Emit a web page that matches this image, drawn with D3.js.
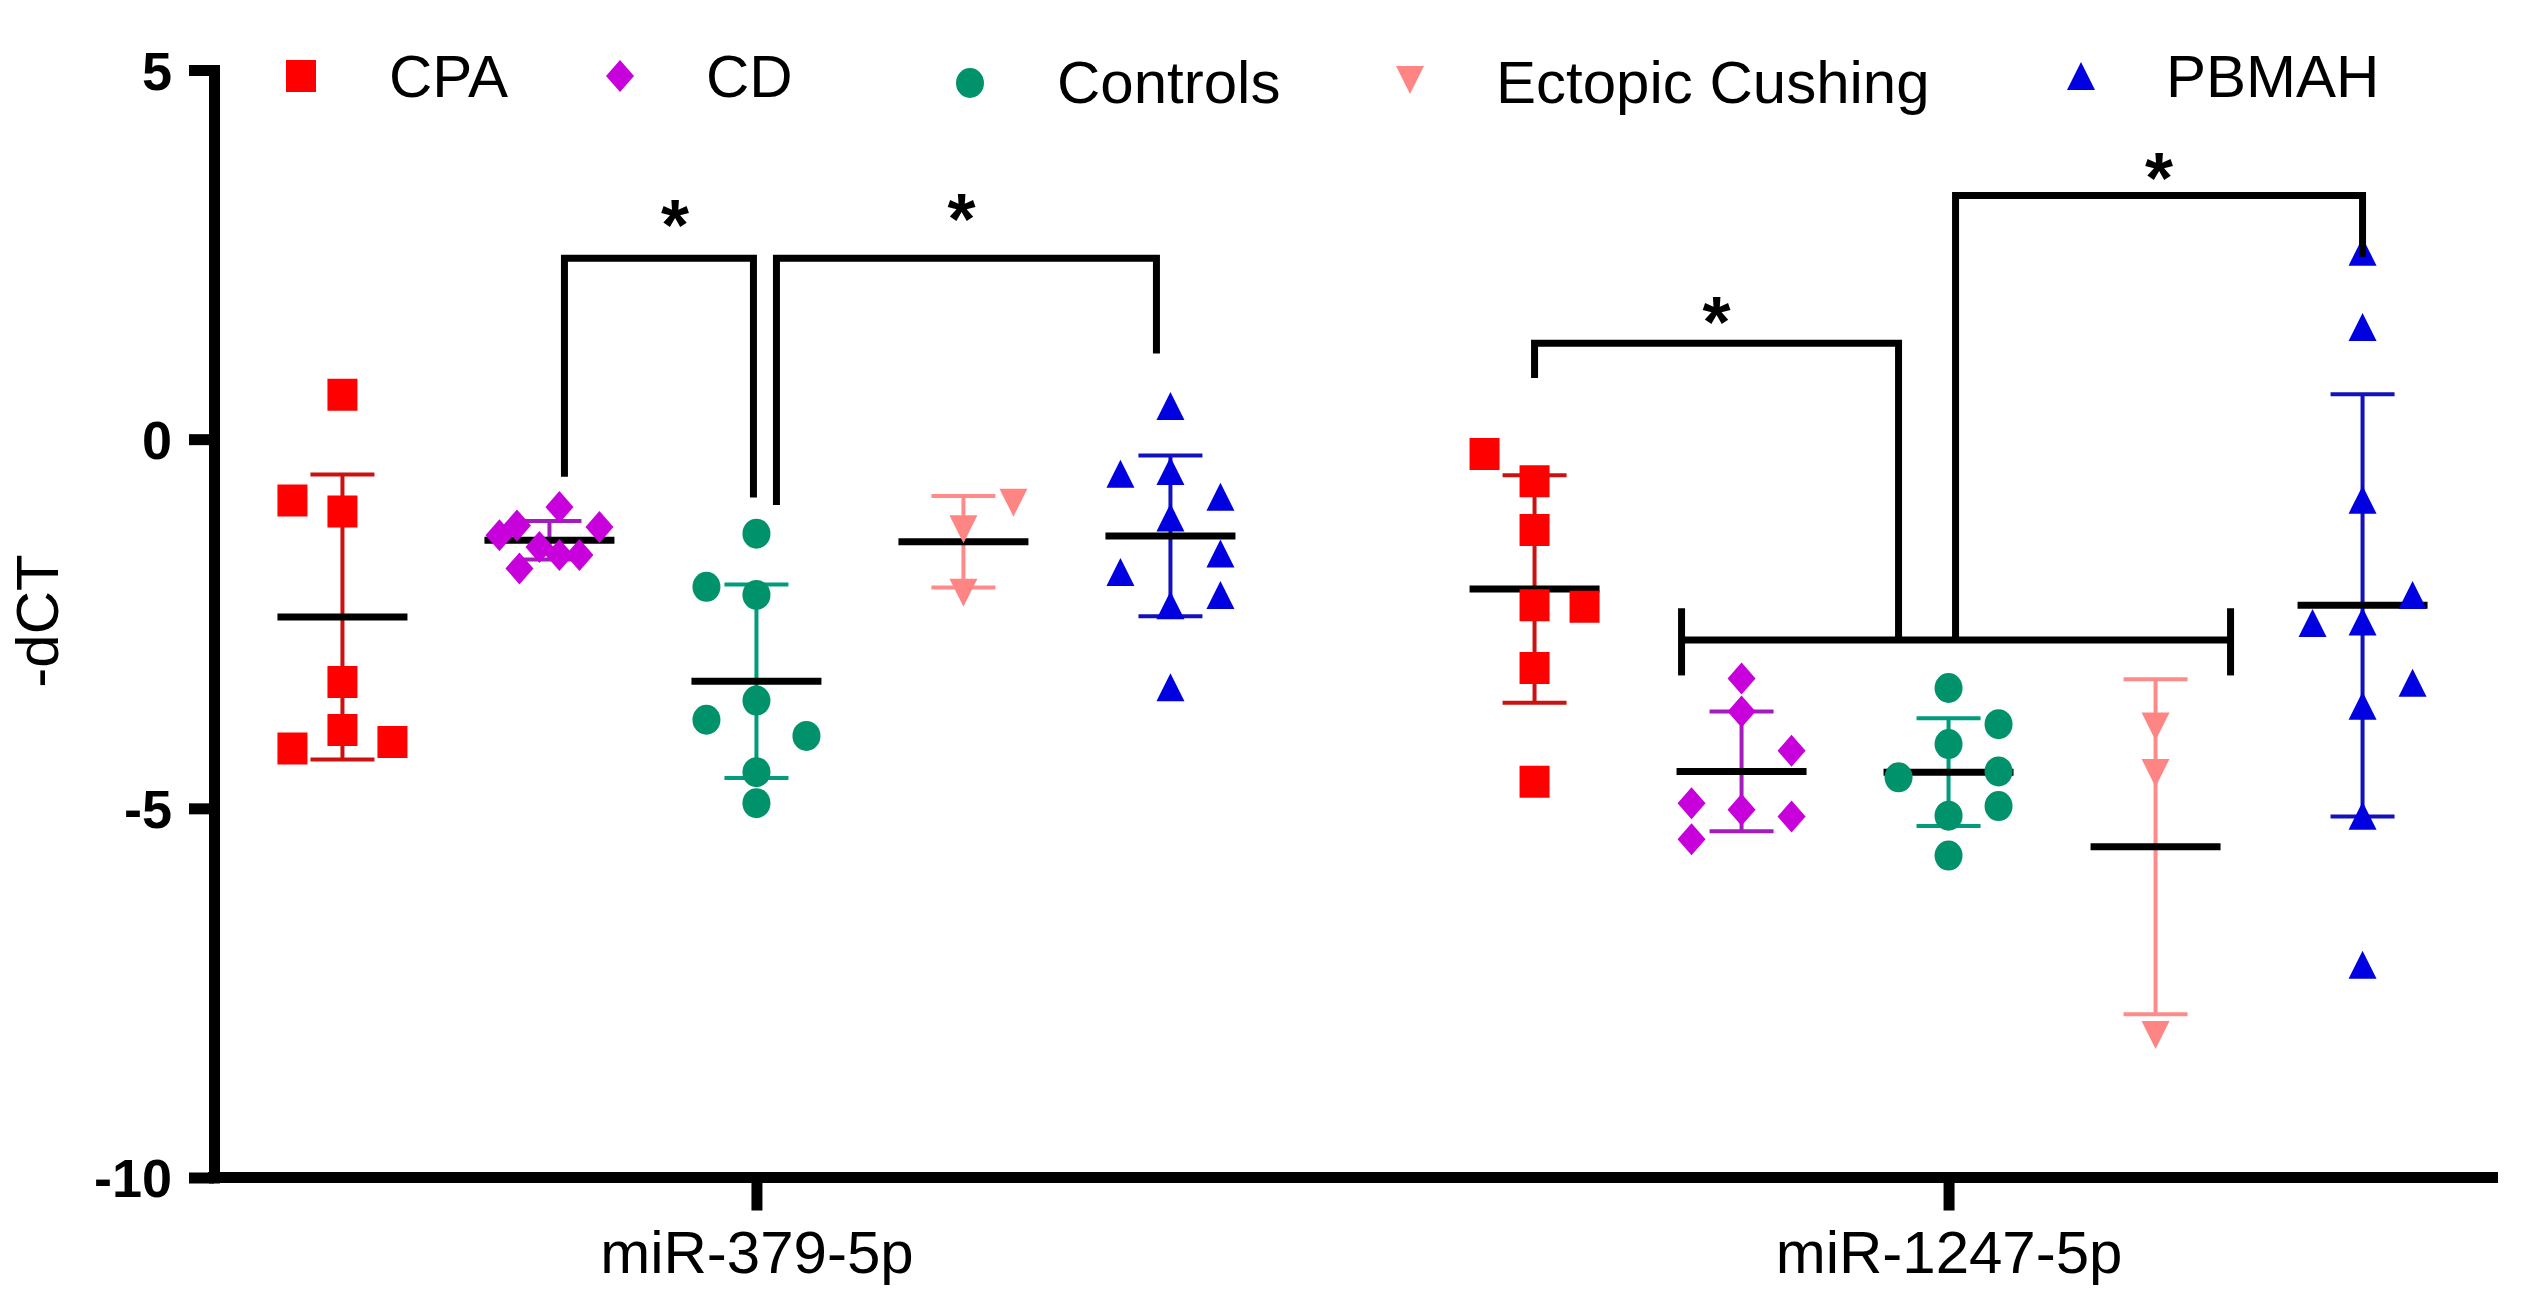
<!DOCTYPE html>
<html><head><meta charset="utf-8">
<script src="https://cdn.jsdelivr.net/npm/d3@7"></script>
<style>body{margin:0;background:#fff}svg{display:block}</style>
</head><body>
<svg id="chart" width="2535" height="1306"></svg>
<script>
// ---------------- data ----------------
const mirnas = ["miR-379-5p", "miR-1247-5p"];
const groups = ["CPA", "CD", "Controls", "Ectopic Cushing", "PBMAH"];
const yTicks = [5, 0, -5, -10];
const yTitle = "-dCT";

// miR-379-5p individual -dCT values (and horizontal scatter slot of each point)
const cpa379 = [0.60, -0.83, -0.98, -3.29, -3.94, -4.19, -4.10];
const cpa379Slot = [0, -1, 0, 0, 0, -1, 1];
const cd379 = [-0.92, -1.17, -1.19, -1.30, -1.46, -1.57, -1.57, -1.75];
const cd379Slot = [0.2, -0.65, 1, -1, -0.2, 0.2, 0.6, -0.6];
const ctl379 = [-1.28, -2.00, -2.11, -3.54, -3.80, -4.02, -4.51, -4.93];
const ctl379Slot = [0, -1, 0, 0, -1, 1, 0, 0];
const ect379 = [-0.86, -1.22, -2.08];
const ect379Slot = [1, 0, 0];
const pb379 = [0.45, -0.47, -0.43, -0.78, -1.06, -1.55, -1.80, -2.11, -2.25, -3.36];
const pb379Slot = [0, -1, 0, 1, 0, 1, -1, 1, 0, 0];

// miR-1247-5p
const cpa1247 = [-0.20, -0.57, -1.23, -2.25, -2.27, -3.10, -4.64];
const cpa1247Slot = [-1, 0, 0, 0, 1, 0, 0];
const cd1247 = [-3.24, -3.69, -4.22, -4.93, -5.02, -5.11, -5.42];
const cd1247Slot = [0, 0, 1, -1, 0, 1, -1];
const ctl1247 = [-3.37, -3.86, -4.13, -4.58, -4.50, -4.97, -5.10, -5.64];
const ctl1247Slot = [0, 1, 0, -1, 1, 1, 0, 0];
const ect1247 = [-3.89, -4.52, -8.07];
const ect1247Slot = [0, 0, 0];
const pb1247 = [2.54, 1.52, -0.82, -2.11, -2.49, -2.47, -3.30, -3.61, -5.10, -7.12];
const pb1247Slot = [0, 0, 0, 1, -1, 0, 1, 0, 0, 0];

// mean and SD per group (as plotted)
const means379 = [-2.41, -1.37, -3.28, -1.39, -1.31];
const sds379 = [1.93, 0.26, 1.31, 0.62, 1.09];
const means1247 = [-2.03, -4.50, -4.51, -5.52, -2.25];
const sds1247 = [1.54, 0.81, 0.73, 2.27, 2.86];

// ---------------- build table ----------------
const values = {
  "miR-379-5p": [[cpa379, cpa379Slot], [cd379, cd379Slot], [ctl379, ctl379Slot], [ect379, ect379Slot], [pb379, pb379Slot]],
  "miR-1247-5p": [[cpa1247, cpa1247Slot], [cd1247, cd1247Slot], [ctl1247, ctl1247Slot], [ect1247, ect1247Slot], [pb1247, pb1247Slot]]
};
const stats = {"miR-379-5p": [means379, sds379], "miR-1247-5p": [means1247, sds1247]};
const points = [], summaries = [];
mirnas.forEach(m => {
  groups.forEach((g, gi) => {
    const [vals, slots] = values[m][gi];
    vals.forEach((v, i) => points.push({m, g, gi, v, s: slots[i]}));
    summaries.push({m, g, gi, mean: stats[m][0][gi], sd: stats[m][1][gi]});
  });
});

// ---------------- styles ----------------
const FONT = "'Liberation Sans', Arial, Helvetica, sans-serif";
const fill = ["#ff0000", "#c800dc", "#00926a", "#ff8585", "#0000e0"];
const barCol = ["#cc1111", "#a41cbc", "#009c7c", "#ff8a8a", "#1212bc"];
const shapes = [
  "M-15,-16h30v32h-30z",
  "M0,-16L14,0L0,16L-14,0Z",
  "M-14,0a14,15 0 1,0 28,0a14,15 0 1,0 -28,0Z",
  "M-14,-14L14,-14L0,14Z",
  "M0,-14L14,14L-14,14Z"
];

// ---------------- scales ----------------
const svg = d3.select("#chart");
const x = d3.scalePoint().domain(mirnas).range([220, 2485]).padding(0.45);
const gx = d3.scalePoint().domain(groups).range([-414, 414]);
const slotW = 50;
const y = d3.scaleLinear().domain([-10, 5]).range([1177.5, 70]);
const X = (m, g, s = 0) => x(m) + gx(g) + s * slotW;

// ---------------- axes ----------------
const yAxis = d3.axisLeft(y).tickValues(yTicks).tickSize(25).tickSizeOuter(0)
  .tickPadding(17).tickFormat(d => String(d));
const gy = svg.append("g").attr("transform", "translate(214,0)").call(yAxis);
gy.select(".domain").attr("stroke", "#000").attr("stroke-width", 11).attr("stroke-linecap", "square");
gy.selectAll(".tick line").attr("stroke", "#000").attr("stroke-width", 11);
gy.selectAll(".tick text").attr("font-family", FONT).attr("font-size", 54)
  .attr("font-weight", "bold").attr("fill", "#000").attr("dy", "0.36em");

const xAxis = d3.axisBottom(x).tickSize(33).tickSizeOuter(0);
const gxa = svg.append("g").attr("transform", "translate(0,1177.5)").call(xAxis);
gxa.select(".domain").remove();
gxa.append("line").attr("x1", 208).attr("x2", 2498).attr("y1", 0).attr("y2", 0)
  .attr("stroke", "#000").attr("stroke-width", 11);
gxa.selectAll(".tick line").attr("stroke", "#000").attr("stroke-width", 11);
gxa.selectAll(".tick text").attr("font-family", FONT).attr("font-size", 60)
  .attr("fill", "#000").attr("y", 95).attr("dy", 0);

svg.append("text").attr("transform", "translate(58,621) rotate(-90)")
  .attr("text-anchor", "middle").attr("font-family", FONT).attr("font-size", 60)
  .text(yTitle);

// ---------------- error bars & means ----------------
const eb = svg.append("g");
summaries.forEach(d => {
  const cx = X(d.m, d.g), c = barCol[d.gi];
  const top = y(d.mean + d.sd), bot = y(d.mean - d.sd);
  eb.append("line").attr("x1", cx).attr("x2", cx).attr("y1", top).attr("y2", bot)
    .attr("stroke", c).attr("stroke-width", 4);
  [top, bot].forEach(yy => eb.append("line").attr("x1", cx - 32).attr("x2", cx + 32)
    .attr("y1", yy).attr("y2", yy).attr("stroke", c).attr("stroke-width", 4));
  eb.append("line").attr("x1", cx - 65).attr("x2", cx + 65)
    .attr("y1", y(d.mean)).attr("y2", y(d.mean)).attr("stroke", "#000").attr("stroke-width", 7);
});

// ---------------- points ----------------
svg.append("g").selectAll("path").data(points).join("path")
  .attr("d", d => shapes[d.gi]).attr("fill", d => fill[d.gi])
  .attr("transform", d => `translate(${X(d.m, d.g, d.s)},${y(d.v)})`);

// ---------------- significance brackets ----------------
const br = svg.append("g").attr("fill", "none").attr("stroke", "#000").attr("stroke-width", 7);
const M1 = mirnas[0], M2 = mirnas[1];
const P = (m, g, dx, v) => [X(m, g) + dx, y(v)];
const line = d3.line();
const brackets = [
  [P(M1, "CD", 15, -0.51), P(M1, "CD", 15, 2.45), P(M1, "Controls", -3, 2.45), P(M1, "Controls", -3, -0.79)],
  [P(M1, "Controls", 20, -0.89), P(M1, "Controls", 20, 2.45), P(M1, "PBMAH", -14, 2.45), P(M1, "PBMAH", -14, 1.16)],
  [P(M2, "CPA", 0, 0.83), P(M2, "CPA", 0, 1.30), P(M2, "Controls", -50, 1.30), P(M2, "Controls", -50, -2.72)],
  [P(M2, "Controls", 7, -2.72), P(M2, "Controls", 7, 3.30), P(M2, "PBMAH", 0, 3.30), P(M2, "PBMAH", 0, 2.47)],
  [P(M2, "CD", -60, -2.72), P(M2, "Ectopic Cushing", 75, -2.72)],
  [P(M2, "CD", -60, -2.29), P(M2, "CD", -60, -3.20)],
  [P(M2, "Ectopic Cushing", 75, -2.29), P(M2, "Ectopic Cushing", 75, -3.20)]
];
brackets.forEach(b => br.append("path").attr("d", line(b)));

// asterisk centres: [x, y-value of centre]
const stars = [
  [(X(M1, "CD") + 15 + X(M1, "Controls") - 3) / 2 + 16, 3.03],
  [(X(M1, "Controls") + 20 + X(M1, "PBMAH") - 14) / 2 - 5, 3.12],
  [(X(M2, "CPA") + X(M2, "Controls") - 50) / 2, 1.72],
  [(X(M2, "Controls") + 7 + X(M2, "PBMAH")) / 2, 3.67]
];
svg.append("g").selectAll("text").data(stars).join("text")
  .attr("x", d => d[0]).attr("y", d => y(d[1]) + 35)
  .attr("text-anchor", "middle").attr("font-family", FONT).attr("font-weight", "bold")
  .attr("font-size", 72).text("*");

// ---------------- legend ----------------
const legendPos = [[301, 76, 389, 97], [620, 76, 706, 97], [970, 83, 1057, 103], [1410, 80, 1496, 103], [2081, 76, 2166, 97]];
const lg = svg.append("g");
groups.forEach((g, i) => {
  const [mx, my, tx, ty] = legendPos[i];
  lg.append("path").attr("d", shapes[i]).attr("fill", fill[i]).attr("transform", `translate(${mx},${my})`);
  lg.append("text").attr("x", tx).attr("y", ty).attr("font-family", FONT).attr("font-size", 60).text(g);
});
</script>
</body></html>
